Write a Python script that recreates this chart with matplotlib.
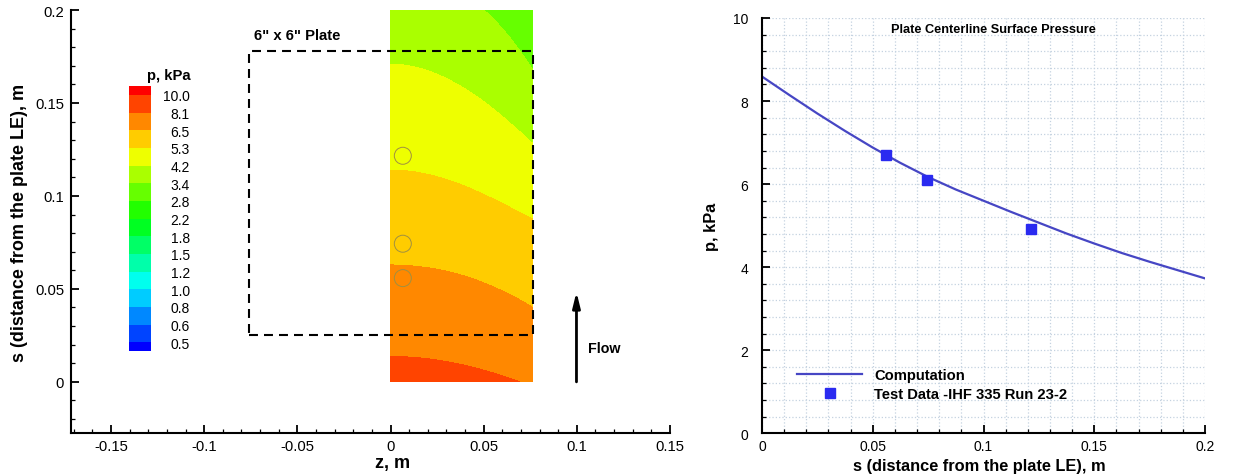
import numpy as np
import matplotlib
matplotlib.use("Agg")
import matplotlib.pyplot as plt
from matplotlib.colors import ListedColormap, BoundaryNorm
from matplotlib.ticker import MultipleLocator, FuncFormatter

plt.rcParams['font.family'] = ['Liberation Sans', 'DejaVu Sans']

# centerline surface pressure (computation)
s_cl = [0.0, 0.0125, 0.025, 0.0375, 0.05, 0.0625, 0.075, 0.0875, 0.1,
        0.1125, 0.125, 0.1375, 0.15, 0.1625, 0.175, 0.1875, 0.2]
p_cl = [8.59, 8.14, 7.70, 7.28, 6.88, 6.51, 6.17, 5.87, 5.60,
        5.33, 5.07, 4.81, 4.57, 4.34, 4.13, 3.93, 3.73]

# test data, IHF 335 run 23-2
s_test = [0.0558, 0.0743, 0.1216]
p_test = [6.70, 6.11, 4.91]

# spanwise pressure drop at the plate edge (fraction of centerline)
s_edge = [0.0, 0.04, 0.0875, 0.128, 0.17, 0.2]
edge_drop = [0.069, 0.097, 0.097, 0.16, 0.20, 0.205]

# contour levels and band colours (under, 14 bands, over)
levels = [0.5, 0.6, 0.8, 1.0, 1.2, 1.5, 1.8, 2.2, 2.8, 3.4, 4.2, 5.3, 6.5, 8.1, 10.0]
band_colors = ['#0000ff', '#0044ff', '#0088ff', '#00ccff', '#00ffee', '#00ffaa',
               '#00ff66', '#00ff22', '#22ff00', '#66ff00', '#aaff00', '#eeff00',
               '#ffcc00', '#ff8800', '#ff4400', '#ff0000']

half_width = 0.0762
plate_s = [0.0254, 0.1778]

fig = plt.figure(figsize=(12.39, 4.77), dpi=100)

# ---------------- left: contour map ----------------
ax1 = fig.add_axes([71/1239, 43/477, 599/1239, 423/477])
z = np.linspace(0, half_width, 160)
s = np.linspace(0, 0.2, 400)
Z, S = np.meshgrid(z, s)
P = np.interp(S, s_cl, p_cl) * (1 - np.interp(S, s_edge, edge_drop) * (Z / half_width) ** 2)

cmap = ListedColormap(band_colors[1:-1])
cmap.set_under(band_colors[0])
cmap.set_over(band_colors[-1])
norm = BoundaryNorm(levels, cmap.N)
cs = ax1.contourf(Z, S, P, levels=levels, cmap=cmap, norm=norm, extend='both')

# pressure taps
ax1.scatter([0.0066] * 3, s_test, s=150, facecolors='none', edgecolors='#a09040',
            linewidths=0.7, zorder=3)

# plate outline
ax1.plot([-half_width, half_width, half_width, -half_width, -half_width],
         [plate_s[0], plate_s[0], plate_s[1], plate_s[1], plate_s[0]],
         color='black', lw=1.5, dashes=(4.3, 2.9), zorder=4)
ax1.text(-0.0735, 0.1865, '6" x 6" Plate', fontsize=10.7, fontweight='bold',
         ha='left', va='center')

# flow arrow
ax1.annotate('', xy=(0.0998, 0.0484), xytext=(0.0998, 0.0),
             arrowprops=dict(arrowstyle='-|>,head_length=0.9,head_width=0.22',
                             lw=2, color='black', shrinkA=0, shrinkB=0))
ax1.text(0.106, 0.018, 'Flow', fontsize=10.3, fontweight='bold', ha='left', va='center')

ax1.set_xlim(-0.1715, 0.15)
ax1.set_ylim(-0.0275, 0.2)
ax1.xaxis.set_major_locator(MultipleLocator(0.05))
ax1.xaxis.set_minor_locator(MultipleLocator(0.01))
ax1.yaxis.set_major_locator(MultipleLocator(0.05))
ax1.yaxis.set_minor_locator(MultipleLocator(0.01))
fmt = FuncFormatter(lambda v, pos: '%g' % round(v, 4))
ax1.xaxis.set_major_formatter(fmt)
ax1.yaxis.set_major_formatter(fmt)
ax1.set_xlabel('z, m', fontsize=13, fontweight='bold')
ax1.set_ylabel('s (distance from the plate LE), m', fontsize=13, fontweight='bold')
ax1.xaxis.set_label_coords((393 - 71) / 599, -0.05)
ax1.yaxis.set_label_coords((28 - 71) / 599, 0.5)

# colour legend
cax = fig.add_axes([129/1239, 125/477, 22/1239, 265/477])
cb = fig.colorbar(cs, cax=cax, extendrect=True, extendfrac=0.5/14, ticks=levels)
cb.outline.set_visible(False)
cb.ax.tick_params(length=0, pad=28, labelsize=10)
cb.ax.set_yticklabels(['%.1f' % v for v in levels])
for lab in cb.ax.get_yticklabels():
    lab.set_horizontalalignment('right')
fig.text(190.7/1239, 1 - 83/477, 'p, kPa', fontsize=10.7, fontweight='bold',
         ha='right', va='bottom')

# ---------------- right: centerline pressure ----------------
ax2 = fig.add_axes([762/1239, 42.7/477, 443/1239, 415.3/477])
ax2.plot(s_cl, p_cl, color='#4646c4', lw=1.6, label='Computation')
ax2.plot(s_test, p_test, ls='none', marker='s', ms=7.5, color='#2a2af0',
         label='Test Data -IHF 335 Run 23-2')
ax2.set_xlim(0, 0.2)
ax2.set_ylim(0, 10)
ax2.xaxis.set_major_locator(MultipleLocator(0.05))
ax2.xaxis.set_minor_locator(MultipleLocator(0.01))
ax2.yaxis.set_major_locator(MultipleLocator(2))
ax2.yaxis.set_minor_locator(MultipleLocator(0.4))
ax2.xaxis.set_major_formatter(fmt)
ax2.grid(which='both', color='#c4d2e0', ls=':', lw=0.9)
ax2.set_axisbelow(True)
ax2.set_xlabel('s (distance from the plate LE), m', fontsize=11.8, fontweight='bold')
ax2.set_ylabel('p, kPa', fontsize=11.8, fontweight='bold')
ax2.xaxis.set_label_coords(0.49, -0.06)
ax2.yaxis.set_label_coords(-0.097, 0.5)
ax2.text(0.1046, 9.74, 'Plate Centerline Surface Pressure', fontsize=9.2,
         fontweight='bold', ha='center', va='center')
ax2.legend(loc='center left', bbox_to_anchor=(0.0783, 0.118), frameon=False,
           borderpad=0, borderaxespad=0, handlelength=4.46, handletextpad=0.82,
           labelspacing=0.35, prop={'size': 10.6, 'weight': 'bold'})

for ax, tsize in ((ax1, 10.7), (ax2, 10)):
    ax.spines['top'].set_visible(False)
    ax.spines['right'].set_visible(False)
    ax.spines['left'].set_linewidth(1.5)
    ax.spines['bottom'].set_linewidth(1.5)
    ax.tick_params(which='major', direction='in', length=6, width=1.3, labelsize=tsize)
    ax.tick_params(which='minor', direction='in', length=3.2, width=0.9)
    ax.tick_params(axis='x', pad=4)
ax1.tick_params(axis='y', pad=5)
ax2.tick_params(axis='y', pad=10)

fig.savefig('out.png', dpi=100)
